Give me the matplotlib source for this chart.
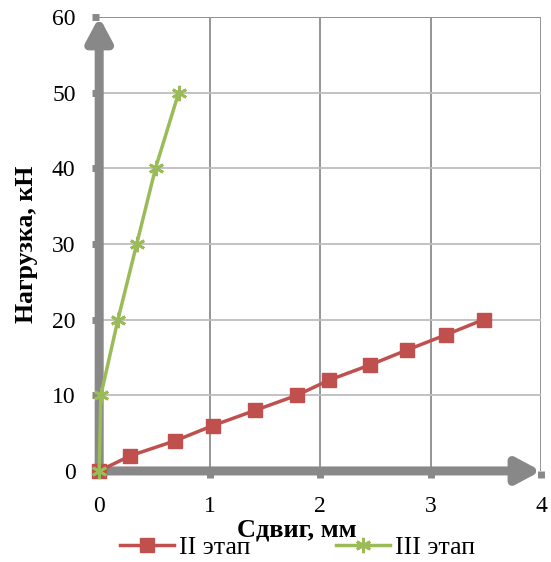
import matplotlib
matplotlib.use("Agg")
import matplotlib.pyplot as plt

x2 = [0, 0.28, 0.69, 1.03, 1.41, 1.79, 2.08, 2.45, 2.79, 3.14, 3.48]
y2 = [0, 2, 4, 6, 8, 10, 12, 14, 16, 18, 20]
x3 = [0, 0.015, 0.17, 0.34, 0.51, 0.72]
y3 = [0, 10, 20, 30, 40, 50]
xticks = [0, 1, 2, 3, 4]
yticks = [0, 10, 20, 30, 40, 50, 60]
labels = ["II этап", "III этап"]
xlabel = "Сдвиг, мм"
ylabel = "Нагрузка, кН"

plt.rcParams['font.family'] = ['Liberation Serif', 'DejaVu Serif']
fig = plt.figure(figsize=(5.51, 5.62), dpi=100)
ax = fig.add_axes([0.18, 0.162, 0.802, 0.808])
ax.set_xlim(0, 4)
ax.set_ylim(0, 60)
for s in ax.spines.values():
    s.set_visible(False)
for xv in xticks[1:]:
    ax.axvline(xv, color='#8c8c8c', lw=1.3, zorder=1)
for yv in yticks[1:]:
    ax.axhline(yv, color='#bdbdbd', lw=1.3, zorder=1)
ax.axhline(60, color='#8c8c8c', lw=1.3, zorder=1)

ax.set_xticks(xticks)
ax.set_yticks(yticks)
ax.tick_params(axis='both', colors='#888888', length=5, width=5, direction='out',
               labelcolor='black', labelsize=17)
ax.tick_params(axis='x', pad=13)
ax.tick_params(axis='y', pad=12)

arrow_kw = dict(arrowstyle='-|>,head_length=1.4,head_width=0.75', color='#888888', lw=6.5,
                shrinkA=0, shrinkB=0)
ax.annotate('', xy=(0, 1.0), xytext=(0, 0), xycoords='axes fraction',
            arrowprops=arrow_kw, annotation_clip=False, zorder=2)
ax.annotate('', xy=(1.0, 0), xytext=(0, 0), xycoords='axes fraction',
            arrowprops=arrow_kw, annotation_clip=False, zorder=2)

l2, = ax.plot(x2, y2, color='#C0504D', lw=2.5, marker='s', markersize=10,
              markerfacecolor='#C0504D', markeredgecolor='#C0504D', label=labels[0],
              zorder=4, clip_on=False)
l3, = ax.plot(x3, y3, color='#9BBB59', lw=2.5, marker=(6, 2, 0), markersize=11,
              markeredgewidth=2, markeredgecolor='#9BBB59', label=labels[1], zorder=5,
              clip_on=False)

ax.set_xlabel(xlabel, fontsize=19, fontweight='bold')
ax.xaxis.set_label_coords(0.446, -0.105)
ax.set_ylabel(ylabel, fontsize=18.5, fontweight='bold')
ax.yaxis.set_label_coords(-0.138, 0.5)

fig.legend(handles=[l2, l3], loc='center', bbox_to_anchor=(0.54, 0.026), ncol=2,
           frameon=False, fontsize=18.5, handlelength=2.1, columnspacing=3.3,
           handletextpad=0.2, borderaxespad=0, borderpad=0.1)

fig.savefig('out.png', dpi=100)
